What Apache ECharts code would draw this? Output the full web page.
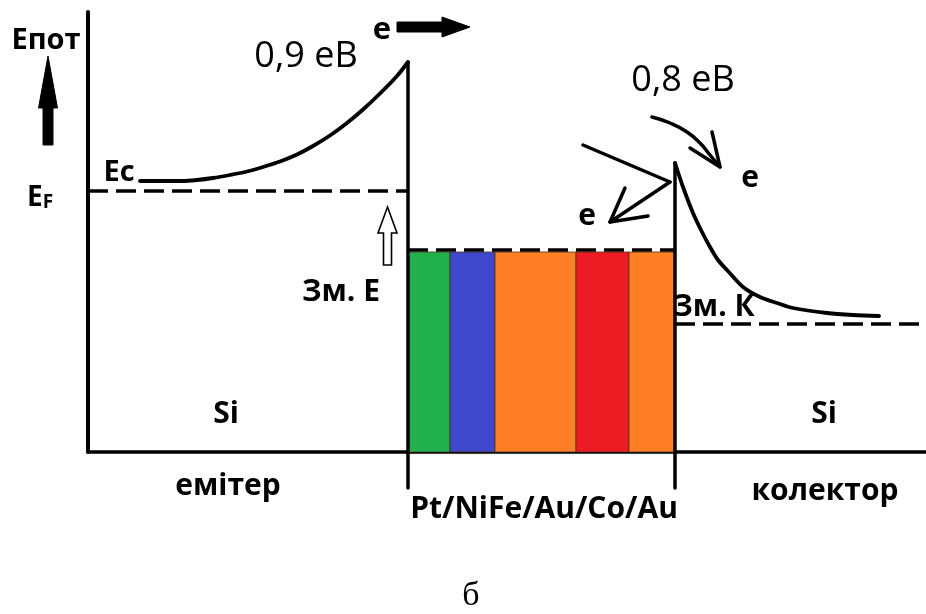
<!DOCTYPE html>
<html><head><meta charset="utf-8">
<script src="https://cdn.jsdelivr.net/npm/echarts@6/dist/echarts.min.js"></script>
<style>html,body{margin:0;padding:0;background:#fff}#c{width:926px;height:614px}</style>
</head><body><div id="c"></div>
<script>
// ---------- data (position x, energy y in diagram units) ----------
const layerNames = ['Pt', 'NiFe', 'Au', 'Co', 'Au'];
const layerEdges = [320, 362, 407, 488, 541, 587];
const layerTop = 200;

const emitterFermi = [[0, 261], [320, 261]];
const metalFermi = [[320, 202], [587, 202]];
const collectorFermi = [[587, 128], [838, 128]];

const emitterEc = [[52, 271], [94, 271], [109, 272], [125, 274], [142, 277], [159, 280.5], [175, 285], [192, 290.5], [209, 297.5], [225, 306], [242, 316.5], [259, 329], [275, 342.5], [292, 358.5], [309, 376], [320, 390]];
const collectorEc = [[587, 289], [595, 265], [605, 239], [614, 220], [622, 205], [630, 192], [639, 182], [655, 165], [672, 155], [689, 149], [705, 144], [739, 139], [765, 137], [791, 136]];

const emitterWall = [[320, 390], [320, -36]];
const collectorWall = [[587, 289], [587, -36]];

const incidentPath = [[495, 307], [582, 270]];
const reflectedPath = [[582, 270], [522, 230]];
const reflectedHead = [[537, 264], [522, 230], [560, 236]];
const transmittedPath = [[564, 335], [582, 329], [599, 320], [612, 309], [622, 297], [632, 285]];
const transmittedHead = [[624, 320], [632, 285], [602, 304]];

// thick arrows: [tailX, tailY, tipX, tipY]
const thickArrows = [
  [-40, 307, -40, 396],   // Eпот axis arrow
  [309, 425, 382, 425],   // electron moving right
  [299.5, 187, 299.5, 245] // hollow arrow to Зм. Е
];

const labelTexts = ['Eпот', 'EF', 'Ec', 'e', '0,9 еВ', '0,8 еВ', 'e', 'e', 'Зм. Е', 'Зм. К', 'Si', 'Si', 'емітер', 'Pt/NiFe/Au/Co/Au', 'колектор', 'б'];
const labelAnchors = [[-42, 411], [-48, 255], [31, 279], [294, 422], [218, 395], [595, 371], [662, 274], [499, 236], [253, 160], [626, 145], [138, 38], [736, 38], [140, -34], [456, -57], [737, -39], [383, -144]];

// ---------- styles ----------
const layerColors = ['#22b14c', '#3f48cc', '#ff7f27', '#ed1c24', '#ff7f27'];
const arrowStyles = [
  { shaft: 10, head: 19, headLen: 52, fill: '#000', stroke: '#000', lineWidth: 1 },
  { shaft: 10, head: 20, headLen: 28, fill: '#000', stroke: '#000', lineWidth: 1 },
  { shaft: 8, head: 19, headLen: 26, fill: '#fff', stroke: '#000', lineWidth: 1.6 }
];
const boldFont = 'Open Sans';
const labelFonts = [
  { fontSize: 29, fontWeight: 'bold' },
  { formatter: '{a|E}{b|F}', rich: { a: { fontSize: 28, fontWeight: 'bold', fontFamily: boldFont, color: '#000', lineHeight: 30, verticalAlign: 'bottom' }, b: { fontSize: 19, fontWeight: 'bold', fontFamily: boldFont, color: '#000', lineHeight: 24, verticalAlign: 'bottom' } } },
  { fontSize: 29, fontWeight: 'bold' },
  { fontSize: 31, fontWeight: 'bold' },
  { fontSize: 36, fontWeight: 'normal' },
  { fontSize: 36, fontWeight: 'normal' },
  { fontSize: 30, fontWeight: 'bold' },
  { fontSize: 30, fontWeight: 'bold' },
  { fontSize: 30, fontWeight: 'bold' },
  { fontSize: 30, fontWeight: 'bold' },
  { fontSize: 30, fontWeight: 'bold' },
  { fontSize: 30, fontWeight: 'bold' },
  { fontSize: 30, fontWeight: 'bold' },
  { fontSize: 30, fontWeight: 'bold' },
  { fontSize: 30, fontWeight: 'bold' },
  { fontSize: 34, fontWeight: 'normal', fontFamily: 'Liberation Serif' }
];

const DASH = [20, 8];
function lineSeries(data, opts) {
  opts = opts || {};
  return {
    type: 'line', data: data, showSymbol: false, symbol: 'none', silent: true, clip: false,
    smooth: opts.smooth || false,
    lineStyle: { color: '#000', width: opts.width || 3, type: opts.dash ? DASH : 'solid', cap: opts.dash ? 'butt' : 'round', join: 'round', opacity: 1 },
    z: opts.z || 3
  };
}

const chart = echarts.init(document.getElementById('c'), null, { renderer: 'canvas' });
chart.setOption({
  animation: false,
  backgroundColor: '#fff',
  textStyle: { fontFamily: boldFont, color: '#000' },
  grid: { left: 88, right: 0, top: 12, bottom: 162, containLabel: false },
  xAxis: {
    type: 'value', min: 0, max: 838,
    axisLine: { show: true, onZero: false, lineStyle: { color: '#000', width: 3.5 } },
    axisTick: { show: false }, axisLabel: { show: false }, splitLine: { show: false }
  },
  yAxis: {
    type: 'value', min: 0, max: 440,
    axisLine: { show: true, onZero: false, lineStyle: { color: '#000', width: 4 } },
    axisTick: { show: false }, axisLabel: { show: false }, splitLine: { show: false }
  },
  series: [
    {
      type: 'custom', name: 'layers', silent: true, clip: false, z: 1,
      data: layerNames.map((n, i) => ({ name: n, value: [layerEdges[i], layerEdges[i + 1], layerTop] })),
      renderItem: function (params, api) {
        const p0 = api.coord([api.value(0), api.value(2)]);
        const p1 = api.coord([api.value(1), 0]);
        return {
          type: 'rect',
          shape: { x: p0[0], y: p0[1], width: p1[0] - p0[0], height: p1[1] - p0[1] },
          style: { fill: layerColors[params.dataIndex], stroke: 'rgba(70,45,20,0.75)', lineWidth: 1 }
        };
      }
    },
    lineSeries(emitterFermi, { dash: true, width: 3.5 }),
    lineSeries(metalFermi, { dash: true, width: 3.5 }),
    lineSeries(collectorFermi, { dash: true, width: 3.5 }),
    lineSeries(emitterEc, { smooth: 0.3, width: 3.8 }),
    lineSeries(collectorEc, { smooth: 0.3, width: 3.8 }),
    lineSeries(emitterWall, { width: 3.5 }),
    lineSeries(collectorWall, { width: 3.5 }),
    lineSeries(incidentPath, { width: 3.5 }),
    lineSeries(reflectedPath, { width: 3.5 }),
    lineSeries(reflectedHead, { width: 3.5 }),
    lineSeries(transmittedPath, { smooth: true, width: 3.5 }),
    lineSeries(transmittedHead, { width: 3.5 }),
    {
      type: 'custom', name: 'arrows', silent: true, clip: false, z: 4,
      data: thickArrows,
      renderItem: function (params, api) {
        const s = arrowStyles[params.dataIndex];
        const a = api.coord([api.value(0), api.value(1)]);
        const b = api.coord([api.value(2), api.value(3)]);
        const dx = b[0] - a[0], dy = b[1] - a[1], L = Math.hypot(dx, dy);
        const ux = dx / L, uy = dy / L, nx = -uy, ny = ux;
        const bx = b[0] - ux * s.headLen, by = b[1] - uy * s.headLen;
        const sw = s.shaft / 2, hw = s.head / 2;
        const pts = [
          [a[0] + nx * sw, a[1] + ny * sw], [bx + nx * sw, by + ny * sw], [bx + nx * hw, by + ny * hw],
          b, [bx - nx * hw, by - ny * hw], [bx - nx * sw, by - ny * sw], [a[0] - nx * sw, a[1] - ny * sw]
        ];
        return { type: 'polygon', shape: { points: pts }, style: { fill: s.fill, stroke: s.stroke, lineWidth: s.lineWidth, lineJoin: 'miter' } };
      }
    },
    {
      type: 'scatter', name: 'labels', silent: true, clip: false, symbolSize: 0, z: 5,
      itemStyle: { opacity: 1 },
      data: labelTexts.map((t, i) => ({
        name: t, value: labelAnchors[i],
        label: Object.assign({ show: true, position: 'inside', color: '#000', opacity: 1, fontFamily: boldFont, formatter: '{b}' }, labelFonts[i])
      }))
    }
  ]
});
</script>
</body></html>
